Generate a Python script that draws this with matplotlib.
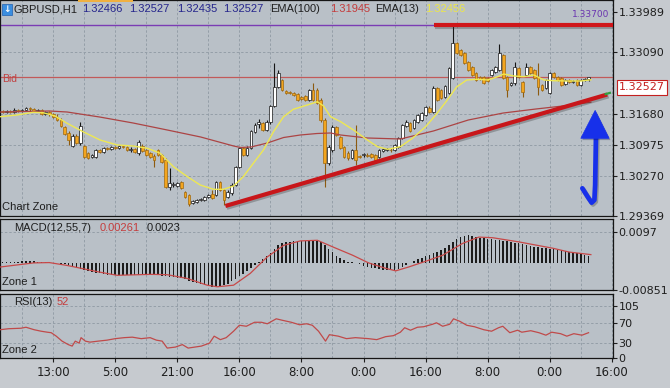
import numpy as np
import matplotlib.pyplot as plt
import matplotlib.patheffects as pe
from matplotlib.patches import Polygon, Rectangle

# ---- data (GBPUSD H1) ----
# bar index 0 is the "13:00" label, one bar per hour
first_bar = -13

opens = [
    1.31746, 1.31723, 1.31746, 1.31723, 1.31769, 1.31746, 1.31769, 1.31814, 1.31791, 1.31746, 1.31769, 1.31678, 1.31723,
    1.31678, 1.31609, 1.31541, 1.31382, 1.31246, 1.30950, 1.31177, 1.31018, 1.30950, 1.30791,
    1.30700, 1.30700, 1.30859, 1.30814, 1.30904, 1.30882, 1.30927, 1.30904, 1.30950, 1.30927,
    1.30859, 1.30882, 1.30791, 1.30950, 1.30859, 1.30791, 1.30723, 1.30859, 1.30745, 1.30632,
    1.30018, 1.30063, 1.30040, 1.30131, 1.29904, 1.29836, 1.29654, 1.29677, 1.29722, 1.29722,
    1.29790, 1.29858, 1.29836, 1.30131, 1.29949, 1.29790, 1.29881, 1.30063, 1.30472, 1.30904,
    1.30745, 1.30904, 1.31268, 1.31450, 1.31473, 1.31314, 1.31496, 1.31860, 1.32292, 1.32451,
    1.32201, 1.32178, 1.32155, 1.32132, 1.32064, 1.32087, 1.31996, 1.32223, 1.32223, 1.31996,
    1.31541, 1.30563, 1.30859, 1.31382, 1.31155, 1.30927, 1.30791, 1.30677, 1.30859, 1.30723,
    1.30745, 1.30745, 1.30768, 1.30745, 1.30700, 1.30836, 1.30859, 1.30859, 1.30859, 1.30927,
    1.31132, 1.31405, 1.31473, 1.31359, 1.31496, 1.31541, 1.31655, 1.31814, 1.31723, 1.32269,
    1.32223, 1.32064, 1.32155, 1.32496, 1.33292, 1.33133, 1.33065, 1.32860, 1.32746, 1.32610,
    1.32519, 1.32519, 1.32496, 1.32565, 1.32633, 1.32678, 1.33019, 1.32519, 1.32337, 1.32383,
    1.32724, 1.32405, 1.32565, 1.32746, 1.32678, 1.32519, 1.32337, 1.32269, 1.32155, 1.32610,
    1.32519, 1.32496, 1.32360, 1.32451, 1.32405, 1.32451, 1.32337, 1.32451, 1.32466,
]
highs = [
    1.31769, 1.31769, 1.31769, 1.31814, 1.31791, 1.31791, 1.31837, 1.31837, 1.31814, 1.31791, 1.31791, 1.31746, 1.31746,
    1.31700, 1.31678, 1.31587, 1.31405, 1.31291, 1.31223, 1.31223, 1.31496, 1.30973, 1.30814,
    1.30768, 1.30882, 1.30882, 1.30927, 1.30927, 1.30950, 1.30950, 1.30973, 1.30973, 1.30950,
    1.30927, 1.30904, 1.31086, 1.30995, 1.30882, 1.30814, 1.30768, 1.30882, 1.30768, 1.30677,
    1.30450, 1.30131, 1.30131, 1.30154, 1.29927, 1.29858, 1.29722, 1.29745, 1.29768, 1.29813,
    1.29858, 1.29949, 1.30154, 1.30154, 1.29972, 1.29949, 1.30109, 1.30495, 1.30927, 1.30927,
    1.30950, 1.31314, 1.31473, 1.31564, 1.31496, 1.31541, 1.31882, 1.32837, 1.32678, 1.32474,
    1.32223, 1.32201, 1.32178, 1.32155, 1.32087, 1.32110, 1.32246, 1.32383, 1.32269, 1.32042,
    1.31587, 1.30973, 1.31428, 1.31405, 1.31177, 1.30950, 1.30836, 1.30882, 1.31428, 1.30745,
    1.30791, 1.30791, 1.30791, 1.30768, 1.30882, 1.30904, 1.30904, 1.30904, 1.30995, 1.31155,
    1.31450, 1.31541, 1.31496, 1.31564, 1.31678, 1.31723, 1.31860, 1.31860, 1.32314, 1.32292,
    1.32246, 1.32337, 1.32746, 1.33702, 1.33315, 1.33156, 1.33088, 1.32883, 1.32769, 1.32633,
    1.32542, 1.32542, 1.32519, 1.32701, 1.32769, 1.33269, 1.33042, 1.32542, 1.32405, 1.32860,
    1.32746, 1.32428, 1.32837, 1.32769, 1.32701, 1.32837, 1.32360, 1.32474, 1.32633, 1.32633,
    1.32542, 1.32519, 1.32474, 1.32474, 1.32451, 1.32474, 1.32474, 1.32496, 1.32527,
]
lows = [
    1.31700, 1.31700, 1.31700, 1.31700, 1.31723, 1.31723, 1.31746, 1.31746, 1.31723, 1.31723, 1.31655, 1.31655, 1.31632,
    1.31587, 1.31518, 1.31382, 1.31200, 1.30973, 1.30927, 1.30995, 1.30973, 1.30677, 1.30654,
    1.30677, 1.30677, 1.30791, 1.30791, 1.30859, 1.30859, 1.30882, 1.30882, 1.30904, 1.30836,
    1.30814, 1.30791, 1.30745, 1.30814, 1.30723, 1.30677, 1.30472, 1.30723, 1.30563, 1.29995,
    1.29949, 1.30018, 1.30018, 1.29972, 1.29768, 1.29586, 1.29631, 1.29654, 1.29699, 1.29699,
    1.29768, 1.29745, 1.29813, 1.29927, 1.29608, 1.29768, 1.29836, 1.30040, 1.30450, 1.30723,
    1.30723, 1.30882, 1.31246, 1.31359, 1.31291, 1.31291, 1.31450, 1.31837, 1.32269, 1.32201,
    1.32132, 1.32132, 1.32087, 1.31973, 1.31996, 1.31973, 1.31973, 1.31973, 1.31905, 1.31496,
    1.30018, 1.30518, 1.30814, 1.31177, 1.30882, 1.30677, 1.30632, 1.30654, 1.30518, 1.30677,
    1.30700, 1.30700, 1.30677, 1.30609, 1.30677, 1.30814, 1.30836, 1.30814, 1.30836, 1.30904,
    1.31109, 1.31382, 1.31268, 1.31337, 1.31473, 1.31518, 1.31632, 1.31700, 1.31700, 1.31973,
    1.32019, 1.32042, 1.32132, 1.32474, 1.33042, 1.32997, 1.32815, 1.32655, 1.32542, 1.32428,
    1.32451, 1.32360, 1.32405, 1.32542, 1.32610, 1.32655, 1.32474, 1.32064, 1.32314, 1.32337,
    1.32496, 1.32064, 1.32542, 1.32587, 1.32474, 1.32110, 1.32201, 1.32246, 1.32132, 1.32496,
    1.32428, 1.32314, 1.32337, 1.32383, 1.32383, 1.32314, 1.32314, 1.32428, 1.32435,
]
closes = [
    1.31723, 1.31746, 1.31723, 1.31769, 1.31746, 1.31769, 1.31814, 1.31791, 1.31746, 1.31769, 1.31678, 1.31723, 1.31678,
    1.31609, 1.31541, 1.31405, 1.31223, 1.31086, 1.31177, 1.31018, 1.31405, 1.30700, 1.30677,
    1.30745, 1.30859, 1.30814, 1.30904, 1.30882, 1.30927, 1.30904, 1.30950, 1.30927, 1.30859,
    1.30882, 1.30814, 1.31041, 1.30836, 1.30745, 1.30700, 1.30632, 1.30745, 1.30586, 1.30018,
    1.30109, 1.30086, 1.30109, 1.29995, 1.29790, 1.29631, 1.29699, 1.29722, 1.29745, 1.29790,
    1.29836, 1.29768, 1.30131, 1.29949, 1.29722, 1.29904, 1.30063, 1.30472, 1.30904, 1.30745,
    1.30904, 1.31291, 1.31428, 1.31496, 1.31314, 1.31496, 1.31860, 1.32292, 1.32610, 1.32223,
    1.32155, 1.32155, 1.32110, 1.31996, 1.32019, 1.31996, 1.32223, 1.31996, 1.31928, 1.31541,
    1.30563, 1.30927, 1.31382, 1.31200, 1.30904, 1.30700, 1.30677, 1.30859, 1.30632, 1.30700,
    1.30768, 1.30723, 1.30700, 1.30632, 1.30859, 1.30882, 1.30882, 1.30850, 1.30973, 1.31132,
    1.31428, 1.31496, 1.31291, 1.31541, 1.31655, 1.31700, 1.31837, 1.31723, 1.32269, 1.31996,
    1.32042, 1.32314, 1.32724, 1.33292, 1.33065, 1.33019, 1.32837, 1.32678, 1.32565, 1.32451,
    1.32474, 1.32383, 1.32428, 1.32678, 1.32746, 1.33065, 1.32496, 1.32223, 1.32383, 1.32746,
    1.32519, 1.32178, 1.32746, 1.32610, 1.32496, 1.32292, 1.32223, 1.32451, 1.32610, 1.32519,
    1.32451, 1.32337, 1.32451, 1.32405, 1.32428, 1.32337, 1.32451, 1.32474, 1.32527,
]

# moving averages, read as vertices along the drawn curves
ema100_bar = [-13.7, -1, 3.6, 12, 20.6, 29.4, 38, 46.5, 48.3, 51, 55.2, 59.4, 63.7, 68, 71.5,
              74.1, 81, 89.5, 98, 107, 116, 124.4, 131.4, 138.6]
ema100 = [1.31723, 1.31746, 1.31723, 1.31609, 1.31473, 1.31314, 1.31155, 1.30950, 1.30916, 1.30927,
          1.31018, 1.31143, 1.31200, 1.31234, 1.31246, 1.31200, 1.31132, 1.31109, 1.31291, 1.31541,
          1.31700, 1.31791, 1.31860, 1.31945]
ema13_bar = [-13.7, -9.3, -5.2, -2.6, 0.5, 3.6, 7.7, 12.1, 16.5, 20.6, 24.3, 27.6, 31, 34.6, 37.9,
             41.3, 43.9, 46.5, 49, 51.6, 54.2, 56.8, 59.4, 61.9, 65.5, 68.1, 69.7, 71.5, 74.1, 77.4,
             81, 83.6, 86.2, 89.5, 92.6, 96, 98.6, 101.4, 104, 106.6, 109.4, 112, 114.6, 116.1,
             118.7, 121.3, 123.9, 126.5, 129, 132.6, 136, 138.6]
ema13 = [1.31616, 1.31655, 1.31716, 1.31707, 1.31632, 1.31466, 1.31275, 1.31086, 1.30973, 1.30950,
         1.30898, 1.30784, 1.30479, 1.30252, 1.30063, 1.29965, 1.29965, 1.30040, 1.30252, 1.30557,
         1.30859, 1.31275, 1.31616, 1.31785, 1.31882, 1.31957, 1.31860, 1.31616, 1.31503, 1.31314,
         1.31086, 1.30934, 1.30875, 1.30934, 1.31125, 1.31389, 1.31655, 1.31973, 1.32292, 1.32451,
         1.32467, 1.32451, 1.32526, 1.32587, 1.32542, 1.32526, 1.32565, 1.32451, 1.32435, 1.32428,
         1.32428, 1.32456]

# MACD(12,55,7) histogram, one value per bar, in units of 1e-4
macd_hist_e4 = [
    3, 3, 4, 4, 4, 5, 5, 5, 5, 4, 4, 3, 2,
    1, -1, -3, -5, -8, -11, -14, -18, -23, -26,
    -29, -31, -33, -35, -37, -38, -39, -39, -39, -39,
    -39, -39, -38, -38, -39, -39, -39, -39, -40, -42,
    -44, -45, -46, -48, -52, -56, -60, -63, -66, -69,
    -72, -75, -76, -73, -70, -65, -58, -50, -42, -34,
    -25, -16, -8, 2, 12, 22, 32, 45, 55, 61,
    65, 67, 68, 69, 69, 70, 70, 71, 70, 65,
    55, 45, 34, 22, 15, 8, 4, 2, 1, -4,
    -10, -13, -15, -17, -19, -21, -23, -23, -22, -18,
    -13, -6, 0, 5, 11, 16, 21, 26, 30, 34,
    40, 48, 57, 66, 75, 81, 85, 87, 85, 82,
    79, 77, 76, 74, 72, 71, 70, 68, 66, 64,
    62, 59, 56, 53, 50, 49, 47, 46, 44, 43,
    41, 39, 37, 34, 33, 31, 28, 26, 23,
]
macd_sig_bar = [-13.7, -5, -1, 3.6, 12, 16.5, 25, 29.4, 34.6, 39.7, 42.3, 46.5, 50.8, 55.2, 59.4,
                63.7, 68.1, 72.5, 77.2, 81.3, 85.7, 88.3, 91.6, 96, 100.4, 105.5, 109.7, 113.3,
                120, 128.8, 133, 138.6]
macd_sig = [-0.0013, 0.0, 0.0001, -0.0008, -0.0029, -0.0039, -0.0036, -0.0037, -0.0049, -0.0070,
            -0.0075, -0.0070, -0.0033, 0.0019, 0.0055, 0.0069, 0.0071, 0.0048, 0.0024, 0.0,
            -0.0017, -0.0025, -0.0013, 0.0005, 0.0024, 0.0061, 0.0081, 0.0079, 0.0066, 0.0046,
            0.0034, 0.0026]

# RSI(13)
rsi_bar = [-13.7, -11.5, -8.3, -7, -4.9, -3.1, -1.5, -0.5, 0.8, 2.3, 3.9, 4.9, 5.7, 6.7, 7.2, 8.3,
           9.5, 11.6, 13.9, 16, 18.3, 20.4, 22.7, 25, 26.6, 28.1, 29.4, 31.5, 33.3, 34.8, 38.2,
           40.3, 41.5, 43.1, 44.6, 46.5, 48, 49.8, 51.9, 53.7, 55.2, 57.5, 59.1, 61.4, 63.5,
           65.3, 66.8, 68.4, 70.2, 71.2, 73.5, 75.6, 77.9, 81.3, 83.4, 85.7, 87.7, 89.5, 90.6,
           92.1, 93.9, 95.5, 97.8, 98.8, 100.4, 102.2, 103.2, 104.8, 106.6, 108.6, 111, 113,
           114.8, 115.9, 117.7, 119.7, 120.8, 123.1, 125.2, 127, 128.5, 130.8, 132.4, 134.2,
           136.3, 138]
rsi = [57, 59, 60, 62, 57, 54, 52, 51, 44, 34, 27, 24, 34, 30, 41, 34,
       32, 34, 36, 39, 41, 42, 39, 41, 36, 34, 20, 22, 27, 20, 24,
       30, 44, 37, 41, 54, 66, 64, 72, 72, 69, 79, 76, 72, 67,
       69, 66, 54, 34, 47, 44, 39, 41, 39, 37, 43, 45, 52, 61,
       56, 62, 63, 68, 71, 64, 68, 79, 74, 66, 63, 57, 54,
       61, 64, 51, 56, 52, 55, 51, 46, 52, 49, 44, 49,
       46, 51]

main_ticks = [1.33989, 1.33090, 1.31680, 1.30975, 1.30270, 1.29369]
main_grid = [1.33090, 1.31680, 1.30975, 1.30270]
macd_ticks = [0.0097, -0.00851]
rsi_ticks = [105, 70, 30, 0]
time_labels = ["13:00", "5:00", "21:00", "16:00", "8:00", "0:00", "16:00", "8:00", "0:00", "16:00"]

bid = 1.32527
level_purple = 1.33700
# drawn objects on the chart
trend_x, trend_y = [44.4, 142.8], [1.29586, 1.32121]
resist_x, resist_y = [98.1, 144.3], [1.33705, 1.33705]

# ---- styling ----
BG = "#b9c0c7"
OUT = "#c6cacf"
GRID = "#949ea8"
DASH = (0, (2.5, 2.0))
X0, X1 = -13.7, 144.3
W, H = 670, 388
LABEL_FONT = ["Liberation Sans", "DejaVu Sans"]

fig = plt.figure(figsize=(6.7, 3.88), dpi=100, facecolor=OUT)
ax = fig.add_axes([0, 1 - 216 / H, 613 / W, 216 / H], facecolor=BG)
axm = fig.add_axes([0, 1 - 290 / H, 613 / W, 71 / H], facecolor=BG)
axr = fig.add_axes([0, 1 - 358 / H, 613 / W, 64 / H], facecolor=BG)

for a in (ax, axm, axr):
    a.set_xlim(X0, X1)
    for xg in range(-8, 145, 8):
        a.axvline(xg, color=GRID, lw=0.7, ls=DASH, zorder=1)
    for s in a.spines.values():
        s.set_color("#151515")
        s.set_linewidth(0.9)
    a.yaxis.tick_right()
    a.tick_params(axis="y", direction="out", length=3, width=0.8, pad=1,
                  labelsize=8, colors="#1e1e1e")
    a.tick_params(axis="x", length=0, labelbottom=False)

# ---- main price panel ----
ax.set_ylim(1.29358, 1.3427)
for yg in main_grid:
    ax.axhline(yg, color=GRID, lw=0.7, ls=DASH, zorder=1)
ax.set_yticks(main_ticks)
ax.set_yticklabels([f"{v:.5f}" for v in main_ticks])

ax.axhline(level_purple, color="#7b3cb4", lw=1.0, zorder=2)
ax.text(0.994, 1.33935, f"{level_purple:.5f}", transform=ax.get_yaxis_transform(),
        ha="right", va="center", fontsize=6.5, color="#6a34b0")
ax.axhline(bid, color="#c25a5a", lw=0.9, zorder=2)
ax.text(0.003, bid - 0.0006, "Bid", transform=ax.get_yaxis_transform(),
        ha="left", va="center", fontsize=7.5, color="#c04040", family=LABEL_FONT)

bars = np.arange(first_bar, first_bar + len(closes))
o, hi, lo, c = (np.array(v) for v in (opens, highs, lows, closes))
up = c >= o
body_lo = np.minimum(o, c)
body_h = np.maximum(np.abs(c - o), 0.00005)

ax.vlines(bars[up], lo[up], hi[up], color="#151515", lw=0.8, zorder=3)
ax.vlines(bars[~up], lo[~up], hi[~up], color="#8c5a10", lw=0.8, zorder=3)
ax.bar(bars[up], body_h[up], bottom=body_lo[up], width=0.7, color="#ffffff",
       edgecolor="#151515", lw=0.5, zorder=4)
ax.bar(bars[~up], body_h[~up], bottom=body_lo[~up], width=0.7, color="#f3a51e",
       edgecolor="#a06a10", lw=0.5, zorder=4)

ax.plot(ema100_bar, ema100, color="#ac4444", lw=0.9, zorder=5)
ax.plot(ema13_bar, ema13, color="#eee852", lw=1.0, zorder=5)

shadow = [pe.SimpleLineShadow(offset=(1.0, -1.3), shadow_color="#303030", alpha=0.3),
          pe.Normal()]
ax.plot(trend_x, trend_y, color="#c8161a", lw=3.0, solid_capstyle="butt", zorder=6,
        path_effects=shadow)
ax.plot(resist_x, resist_y, color="#d0161a", lw=3.0, solid_capstyle="butt", zorder=6,
        path_effects=shadow)
ax.plot([142.4, 143.5], [1.32130, 1.32158], color="#30a040", lw=1.6, zorder=7)

# blue arrow
arrow_x = [136.4, 137.8, 138.8, 139.5, 139.7, 139.9]
arrow_y = [1.29988, 1.29790, 1.29661, 1.29722, 1.30063, 1.31132]
ax.plot(arrow_x, arrow_y, color="#1730ea", lw=3.4, solid_capstyle="round",
        solid_joinstyle="round", zorder=8, path_effects=shadow)
head = Polygon([[136.0, 1.31125], [143.3, 1.31125], [139.7, 1.31760]], closed=True,
               fc="#1730ea", ec="#1730ea", lw=0.5, zorder=8,
               path_effects=[pe.SimplePatchShadow(offset=(1.0, -1.3), alpha=0.3), pe.Normal()])
ax.add_patch(head)

# ---- MACD panel ----
axm.set_ylim(-0.00851, 0.01378)
axm.axhline(0.0097, color=GRID, lw=0.7, ls=DASH, zorder=1)
axm.bar(bars, np.array(macd_hist_e4) * 1e-4, width=0.4, color="#1c1c1c", zorder=3)
axm.plot(macd_sig_bar, macd_sig, color="#c84848", lw=0.9, zorder=4)
axm.set_yticks(macd_ticks)
axm.set_yticklabels(["0.0097", "-0.00851"])

# ---- RSI panel ----
axr.set_ylim(0, 129)
for yg in (105, 70, 30):
    axr.axhline(yg, color=GRID, lw=0.7, ls=DASH, zorder=1)
axr.plot(rsi_bar, rsi, color="#c04a4a", lw=0.9, zorder=4)
axr.set_yticks(rsi_ticks)
axr.set_yticklabels([str(v) for v in rsi_ticks])
axr.set_xticks(np.arange(0, 16 * len(time_labels), 16))
axr.set_xticklabels(time_labels, family=["Liberation Sans Narrow", "DejaVu Sans"])
axr.tick_params(axis="x", length=3, width=0.8, direction="out", labelbottom=True,
                labelsize=8.5, colors="#1e1e1e", pad=3)

# ---- header and panel labels ----
def ftext(x, y, s, color="#1e1e1e", size=8, **kw):
    kw.setdefault("family", LABEL_FONT)
    fig.text(x / W, 1 - y / H, s, color=color, fontsize=size, ha="left", va="center", **kw)

fig.patches.append(Rectangle((78 / W, 1 - 1.5 / H), 55 / W, 1.5 / H, transform=fig.transFigure,
                             fc="#f0b040", ec="none"))
fig.patches.append(Rectangle((2 / W, 1 - 15 / H), 10 / W, 11 / H, transform=fig.transFigure,
                             fc="#3a8ee0", ec="#2060b0", lw=0.5))
ftext(3.2, 9.5, "\u2193", color="white", size=6.5, weight="bold", family="DejaVu Sans")
ftext(14, 9, "GBPUSD,H1")
quote_blue = "#25258c"
ftext(82, 9, "1.32466", color=quote_blue)
ftext(129, 9, "1.32527", color=quote_blue)
ftext(177, 9, "1.32435", color=quote_blue)
ftext(223, 9, "1.32527", color=quote_blue)
ftext(270, 9, "EMA(100)")
ftext(330, 9, "1.31945", color="#c43c3c")
ftext(375, 9, "EMA(13)")
ftext(425, 9, "1.32456", color="#ece64a")

ftext(2, 207, "Chart Zone")
ftext(14, 228, "MACD(12,55,7)")
ftext(100, 228, "0.00261", color="#c43c3c")
ftext(147, 228, "0.0023")
ftext(2, 282, "Zone 1")
ftext(14, 302, "RSI(13)")
ftext(57, 302, "52", color="#c43c3c")
ftext(2, 350, "Zone 2")

fig.text(619 / W, 1 - 87.5 / H, f"{bid:.5f}", color="#c42020", fontsize=8, ha="left",
         va="center", bbox=dict(boxstyle="square,pad=0.2", fc="white", ec="#c42020", lw=0.8))

fig.savefig("out.png", dpi=100, facecolor=fig.get_facecolor())
